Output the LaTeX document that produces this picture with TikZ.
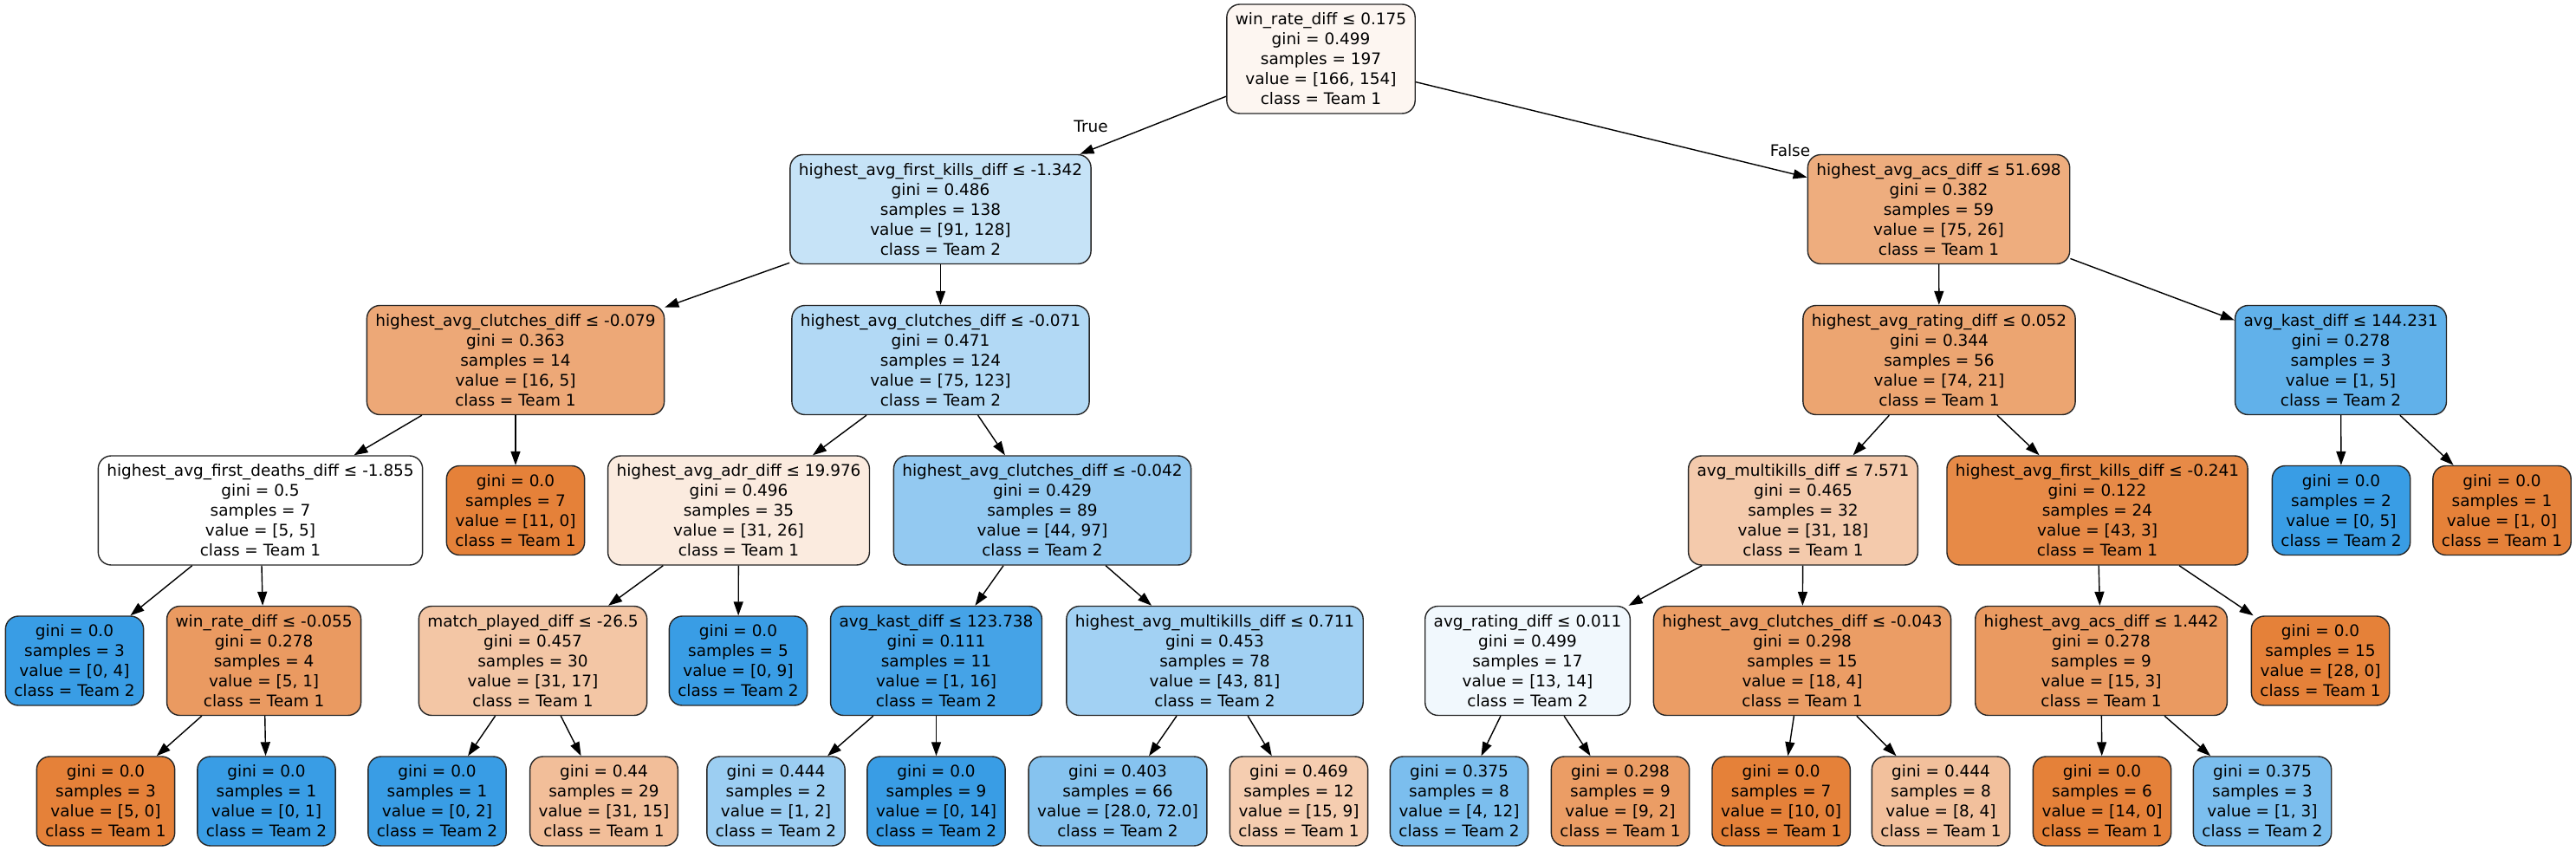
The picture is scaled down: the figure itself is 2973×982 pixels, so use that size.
\documentclass[tikz,border=0pt]{standalone}
\usepackage{fontspec}
\setmainfont{DejaVu Sans}
\usetikzlibrary{arrows.meta}
\definecolor{teamone}{RGB}{229,129,57}
\definecolor{teamtwo}{RGB}{57,157,229}

\begin{document}
\begin{tikzpicture}[x=0.02cm, y=-0.02cm,
    treebox/.style={draw=black!85, line width=0.8pt, rounded corners=3mm, align=center,
        inner xsep=2mm, inner ysep=0pt, font=\fontsize{10.5}{13.1}\selectfont},
    cutnode/.style={treebox, minimum height=2.52cm},
    leafnode/.style={treebox, minimum height=2.06cm},
    one/.style={fill=teamone!#1!white},
    two/.style={fill=teamtwo!#1!white},
    treeedge/.style={-{Triangle[length=3.2mm,width=2.2mm]}, line width=0.8pt}]
    \useasboundingbox (0,0) rectangle (2973,982);
    % level 0 and 1
    \node[cutnode, one=7.2] (root) at (1524.5,68) {win\_rate\_diff ≤ 0.175\\gini = 0.499\\samples = 197\\value = [166, 154]\\class = Team 1};
    \node[cutnode, two=28.9] (fk1) at (1085.5,241.5) {highest\_avg\_first\_kills\_diff ≤ -1.342\\gini = 0.486\\samples = 138\\value = [91, 128]\\class = Team 2};
    \node[cutnode, one=65.3] (acs1) at (2237.5,241.5) {highest\_avg\_acs\_diff ≤ 51.698\\gini = 0.382\\samples = 59\\value = [75, 26]\\class = Team 1};
    % level 2
    \node[cutnode, one=68.8] (cl1) at (595,415.5) {highest\_avg\_clutches\_diff ≤ -0.079\\gini = 0.363\\samples = 14\\value = [16, 5]\\class = Team 1};
    \node[cutnode, two=39] (cl2) at (1085.5,415.5) {highest\_avg\_clutches\_diff ≤ -0.071\\gini = 0.471\\samples = 124\\value = [75, 123]\\class = Team 2};
    \node[cutnode, one=71.6] (rt1) at (2238,415.5) {highest\_avg\_rating\_diff ≤ 0.052\\gini = 0.344\\samples = 56\\value = [74, 21]\\class = Team 1};
    \node[cutnode, two=80] (kast1) at (2701.5,415.5) {avg\_kast\_diff ≤ 144.231\\gini = 0.278\\samples = 3\\value = [1, 5]\\class = Team 2};
    % level 3
    \node[cutnode, fill=white] (fd) at (300.5,589) {highest\_avg\_first\_deaths\_diff ≤ -1.855\\gini = 0.5\\samples = 7\\value = [5, 5]\\class = Team 1};
    \node[leafnode, one=100] (lf11) at (595,589) {gini = 0.0\\samples = 7\\value = [11, 0]\\class = Team 1};
    \node[cutnode, one=16.1] (adr) at (852.5,589) {highest\_avg\_adr\_diff ≤ 19.976\\gini = 0.496\\samples = 35\\value = [31, 26]\\class = Team 1};
    \node[cutnode, two=54.6] (cl3) at (1203,589) {highest\_avg\_clutches\_diff ≤ -0.042\\gini = 0.429\\samples = 89\\value = [44, 97]\\class = Team 2};
    \node[cutnode, one=41.9] (mk1) at (2081,589) {avg\_multikills\_diff ≤ 7.571\\gini = 0.465\\samples = 32\\value = [31, 18]\\class = Team 1};
    \node[cutnode, one=93] (fk2) at (2420.5,589) {highest\_avg\_first\_kills\_diff ≤ -0.241\\gini = 0.122\\samples = 24\\value = [43, 3]\\class = Team 1};
    \node[leafnode, two=100] (lf05) at (2702,589) {gini = 0.0\\samples = 2\\value = [0, 5]\\class = Team 2};
    \node[leafnode, one=100] (lf10) at (2887.5,589) {gini = 0.0\\samples = 1\\value = [1, 0]\\class = Team 1};
    % level 4
    \node[leafnode, two=100] (lf04) at (86,762.5) {gini = 0.0\\samples = 3\\value = [0, 4]\\class = Team 2};
    \node[cutnode, one=80] (wr2) at (304.6,762.5) {win\_rate\_diff ≤ -0.055\\gini = 0.278\\samples = 4\\value = [5, 1]\\class = Team 1};
    \node[cutnode, one=45.2] (mp) at (615,762.5) {match\_played\_diff ≤ -26.5\\gini = 0.457\\samples = 30\\value = [31, 17]\\class = Team 1};
    \node[leafnode, two=100] (lf09) at (852,762.5) {gini = 0.0\\samples = 5\\value = [0, 9]\\class = Team 2};
    \node[cutnode, two=93.8] (kast2) at (1080.5,762.5) {avg\_kast\_diff ≤ 123.738\\gini = 0.111\\samples = 11\\value = [1, 16]\\class = Team 2};
    \node[cutnode, two=46.9] (mk2) at (1402,762.5) {highest\_avg\_multikills\_diff ≤ 0.711\\gini = 0.453\\samples = 78\\value = [43, 81]\\class = Team 2};
    \node[cutnode, two=7.1] (ar) at (1763,762.5) {avg\_rating\_diff ≤ 0.011\\gini = 0.499\\samples = 17\\value = [13, 14]\\class = Team 2};
    \node[cutnode, one=77.8] (cl4) at (2080,762.5) {highest\_avg\_clutches\_diff ≤ -0.043\\gini = 0.298\\samples = 15\\value = [18, 4]\\class = Team 1};
    \node[cutnode, one=80] (acs2) at (2425,762.5) {highest\_avg\_acs\_diff ≤ 1.442\\gini = 0.278\\samples = 9\\value = [15, 3]\\class = Team 1};
    \node[leafnode, one=100] (lf280) at (2678,762.5) {gini = 0.0\\samples = 15\\value = [28, 0]\\class = Team 1};
    % level 5
    \node[leafnode, one=100] (lf50) at (122,924.5) {gini = 0.0\\samples = 3\\value = [5, 0]\\class = Team 1};
    \node[leafnode, two=100] (lf01) at (307.5,924.5) {gini = 0.0\\samples = 1\\value = [0, 1]\\class = Team 2};
    \node[leafnode, two=100] (lf02) at (504.5,924.5) {gini = 0.0\\samples = 1\\value = [0, 2]\\class = Team 2};
    \node[leafnode, one=51.6] (lf3115) at (697,924.5) {gini = 0.44\\samples = 29\\value = [31, 15]\\class = Team 1};
    \node[leafnode, two=50] (lf12) at (895.5,924.5) {gini = 0.444\\samples = 2\\value = [1, 2]\\class = Team 2};
    \node[leafnode, two=100] (lf014) at (1080.5,924.5) {gini = 0.0\\samples = 9\\value = [0, 14]\\class = Team 2};
    \node[leafnode, two=61.1] (lf2872) at (1290,924.5) {gini = 0.403\\samples = 66\\value = [28.0, 72.0]\\class = Team 2};
    \node[leafnode, one=40] (lf159) at (1499,924.5) {gini = 0.469\\samples = 12\\value = [15, 9]\\class = Team 1};
    \node[leafnode, two=66.7] (lf412) at (1684,924.5) {gini = 0.375\\samples = 8\\value = [4, 12]\\class = Team 2};
    \node[leafnode, one=77.8] (lf92) at (1870,924.5) {gini = 0.298\\samples = 9\\value = [9, 2]\\class = Team 1};
    \node[leafnode, one=100] (lf100) at (2055.6,924.5) {gini = 0.0\\samples = 7\\value = [10, 0]\\class = Team 1};
    \node[leafnode, one=50] (lf84) at (2240,924.5) {gini = 0.444\\samples = 8\\value = [8, 4]\\class = Team 1};
    \node[leafnode, one=100] (lf140) at (2426,924.5) {gini = 0.0\\samples = 6\\value = [14, 0]\\class = Team 1};
    \node[leafnode, two=66.7] (lf13) at (2611,924.5) {gini = 0.375\\samples = 3\\value = [1, 3]\\class = Team 2};
    % edges
    \foreach \a/\b in {root/fk1, root/acs1, fk1/cl1, fk1/cl2, cl1/fd, cl1/lf11, cl2/adr, cl2/cl3,
        acs1/rt1, acs1/kast1, rt1/mk1, rt1/fk2, kast1/lf05, kast1/lf10, fd/lf04, fd/wr2,
        adr/mp, adr/lf09, cl3/kast2, cl3/mk2, mk1/ar, mk1/cl4, fk2/acs2, fk2/lf280,
        wr2/lf50, wr2/lf01, mp/lf02, mp/lf3115, kast2/lf12, kast2/lf014, mk2/lf2872, mk2/lf159,
        ar/lf412, ar/lf92, cl4/lf100, cl4/lf84, acs2/lf140, acs2/lf13}
        \draw[treeedge] (\a) -- (\b);
    \node[font=\fontsize{10.5}{13.1}\selectfont] (lbltrue) at (1259,146) {True};
    \node[font=\fontsize{10.5}{13.1}\selectfont] (lblfalse) at (2066,174) {False};
\end{tikzpicture}
\end{document}
